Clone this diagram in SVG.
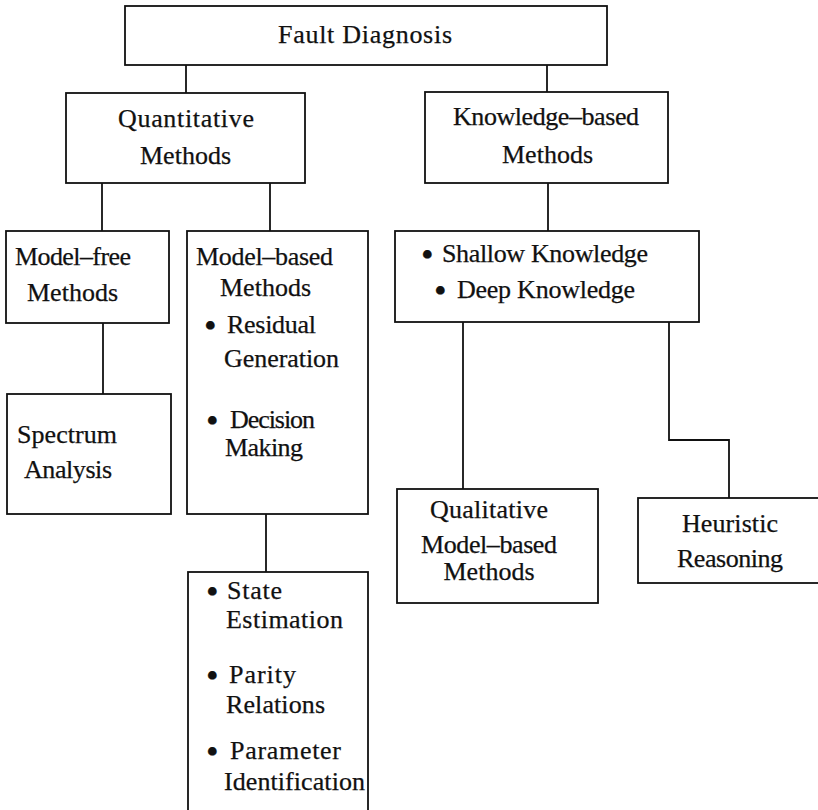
<svg xmlns="http://www.w3.org/2000/svg" width="818" height="810" viewBox="0 0 818 810">
<style>
.box{fill:none;stroke:#111;stroke-width:1.8}
.ln{fill:none;stroke:#111;stroke-width:1.8}
text{font-family:"Liberation Serif","Times New Roman",serif;font-size:26px;fill:#111;stroke:#111;stroke-width:0.25}
.c{text-anchor:middle}
.b{font-size:36px}
</style>
<rect width="818" height="810" fill="#fff"/>
<g id="connectors">
<line class="ln" x1="186" y1="65" x2="186" y2="93"/>
<line class="ln" x1="547" y1="65" x2="547" y2="92"/>
<line class="ln" x1="102" y1="183" x2="102" y2="231"/>
<line class="ln" x1="270" y1="183" x2="270" y2="231"/>
<line class="ln" x1="103" y1="323" x2="103" y2="394"/>
<line class="ln" x1="266" y1="514" x2="266" y2="572"/>
<line class="ln" x1="548" y1="183" x2="548" y2="231"/>
<line class="ln" x1="463" y1="322" x2="463" y2="489"/>
<polyline class="ln" points="669,322 669,440 729,440 729,498"/>
</g>
<g id="fault-diagnosis">
<rect class="box" x="125" y="6" width="482" height="59"/>
<text class="c" x="365" y="43" textLength="174">Fault Diagnosis</text>
</g>
<g id="quantitative">
<rect class="box" x="66" y="93" width="239" height="90"/>
<text x="118" y="127" textLength="136">Quantitative</text>
<text x="140" y="164" textLength="91">Methods</text>
</g>
<g id="knowledge-based">
<rect class="box" x="425" y="92" width="243" height="91"/>
<text x="453" y="125" textLength="186">Knowledge–based</text>
<text x="502" y="163" textLength="91">Methods</text>
</g>
<g id="model-free">
<rect class="box" x="6" y="231" width="163" height="92"/>
<text x="15" y="265" textLength="116">Model–free</text>
<text x="27" y="301" textLength="91">Methods</text>
</g>
<g id="model-based">
<rect class="box" x="187" y="231" width="181" height="283"/>
<text x="196" y="265" textLength="137">Model–based</text>
<text x="220" y="296" textLength="91">Methods</text>
<text><tspan class="b" x="204" y="338">•</tspan><tspan x="227" y="333" textLength="89">Residual</tspan></text>
<text x="224" y="367" textLength="115">Generation</text>
<text><tspan class="b" x="206" y="433">•</tspan><tspan x="230" y="428" textLength="85">Decision</tspan></text>
<text x="225" y="456" textLength="78">Making</text>
</g>
<g id="spectrum-analysis">
<rect class="box" x="7" y="394" width="164" height="120"/>
<text x="17" y="443" textLength="100">Spectrum</text>
<text x="24" y="478" textLength="88">Analysis</text>
</g>
<g id="residual-methods">
<rect class="box" x="188" y="572" width="180" height="245"/>
<text><tspan class="b" x="206" y="604">•</tspan><tspan x="227" y="599" textLength="55">State</tspan></text>
<text x="226" y="628" textLength="117">Estimation</text>
<text><tspan class="b" x="206" y="688">•</tspan><tspan x="229" y="683" textLength="67">Parity</tspan></text>
<text x="226" y="713" textLength="99">Relations</text>
<text><tspan class="b" x="206" y="764">•</tspan><tspan x="230" y="759" textLength="111">Parameter</tspan></text>
<text x="224" y="790" textLength="141">Identification</text>
</g>
<g id="knowledge-types">
<rect class="box" x="395" y="231" width="304" height="91"/>
<text><tspan class="b" x="421" y="267">•</tspan><tspan x="442" y="262" textLength="206">Shallow Knowledge</tspan></text>
<text><tspan class="b" x="434" y="303">•</tspan><tspan x="457" y="298" textLength="178">Deep Knowledge</tspan></text>
</g>
<g id="qualitative">
<rect class="box" x="397" y="489" width="201" height="114"/>
<text class="c" x="489" y="518" textLength="118">Qualitative</text>
<text class="c" x="489" y="553" textLength="136">Model–based</text>
<text class="c" x="489" y="580" textLength="91">Methods</text>
</g>
<g id="heuristic">
<rect class="box" x="638" y="498" width="200" height="85"/>
<text class="c" x="730" y="532" textLength="96">Heuristic</text>
<text class="c" x="730" y="567" textLength="106">Reasoning</text>
</g>
</svg>
